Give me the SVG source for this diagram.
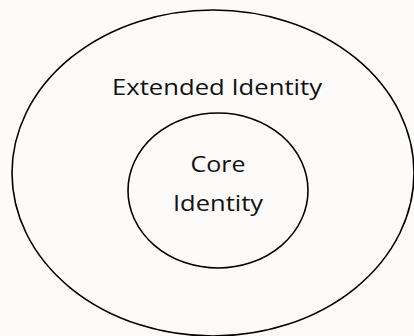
<svg xmlns="http://www.w3.org/2000/svg" width="414" height="336" viewBox="0 0 414 336">
<style>
.shape{fill:none;stroke:#000;stroke-width:1.6}
.lbl{font-family:"Open Sans","Noto Sans","Liberation Sans",sans-serif;font-size:22px;fill:#111;text-anchor:middle}
</style>
<rect x="0" y="0" width="414" height="336" fill="#fdfafa"/>
<g id="extended-identity">
<ellipse class="shape" cx="213" cy="173" rx="201" ry="163"/>
<text class="lbl" x="217" y="95" textLength="210" lengthAdjust="spacingAndGlyphs">Extended Identity</text>
</g>
<g id="core-identity">
<ellipse class="shape" cx="218" cy="190.5" rx="90" ry="77.5"/>
<text class="lbl" x="218" y="172" textLength="55" lengthAdjust="spacingAndGlyphs">Core</text>
<text class="lbl" x="218" y="211" textLength="90" lengthAdjust="spacingAndGlyphs">Identity</text>
</g>
<g id="connectors"></g>
</svg>
